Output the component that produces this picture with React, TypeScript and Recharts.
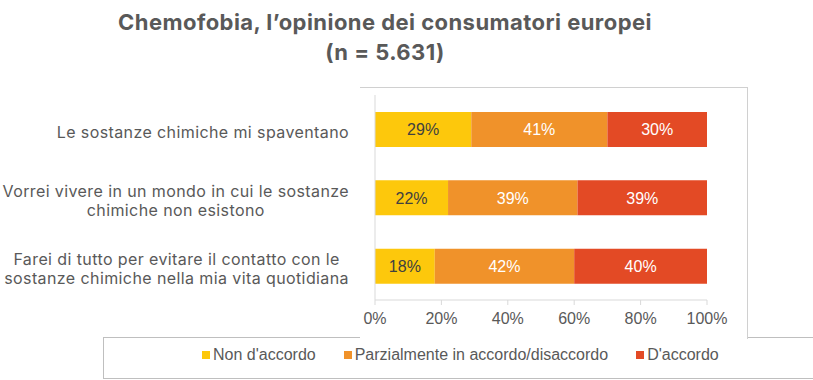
import React from 'react';
import { BarChart, Bar, XAxis, YAxis, LabelList } from 'recharts';

const categories = [
  'Le sostanze chimiche mi spaventano',
  'Vorrei vivere in un mondo in cui le sostanze\nchimiche non esistono',
  'Farei di tutto per evitare il contatto con le\nsostanze chimiche nella mia vita quotidiana',
];
const nonAccordo = [29, 22, 18];
const parziale = [41, 39, 42];
const accordo = [30, 39, 40];
const seriesNames = ["Non d'accordo", 'Parzialmente in accordo/disaccordo', "D'accordo"];
const seriesColors = ['#FDC80C', '#F0922A', '#E34A25'];
const xTicks = [0, 20, 40, 60, 80, 100];
const titleLines = ['Chemofobia, l\u2019opinione dei consumatori europei', '(n = 5.631)'];

const data = categories.map((name, i) => ({
  name,
  nonAccordo: nonAccordo[i],
  parziale: parziale[i],
  accordo: accordo[i],
}));

const keys = ['nonAccordo', 'parziale', 'accordo'];

const grey = '#595959';
const axisGrey = '#D9D9D9';
const arial = '"Liberation Sans", Arial, sans-serif';

const CategoryTick = ({ y, payload }: any) => (
  <foreignObject x={0} y={y - 22} width={349} height={50}>
    <div
      style={{
        width: '100%',
        height: '100%',
        display: 'flex',
        alignItems: 'center',
        justifyContent: 'flex-end',
      }}
    >
      <div
        style={{
          whiteSpace: 'pre-line',
          textAlign: 'center',
          fontFamily: 'Inter, sans-serif',
          fontSize: 16,
          letterSpacing: 0.4,
          lineHeight: '19px',
          color: grey,
        }}
      >
        {payload.value}
      </div>
    </div>
  </foreignObject>
);

const LegendBox = () => (
  <div
    style={{
      position: 'absolute',
      left: 0,
      top: 346,
      width: 813,
      display: 'flex',
      fontFamily: arial,
      fontSize: 16,
      color: grey,
      lineHeight: '18px',
    }}
  >
    <div style={{ marginLeft: 202, display: 'flex' }}>
      {seriesNames.map((n, i) => (
        <div key={n} style={{ display: 'flex', alignItems: 'center', marginRight: 28 }}>
          <span
            style={{ width: 8, height: 8, background: seriesColors[i], marginRight: 3, display: 'inline-block' }}
          />
          <span>{n}</span>
        </div>
      ))}
    </div>
  </div>
);

export default function App() {
  return (
    <div style={{ position: 'absolute', left: 0, top: 0, width: 813, height: 380, background: '#fff', overflow: 'hidden' }}>
      {/* legend frame */}
      <div
        style={{
          position: 'absolute',
          left: 103,
          top: 337,
          width: 720,
          height: 40,
          border: '1px solid #BFBFBF',
        }}
      />
      {/* plot frame */}
      <div
        style={{
          position: 'absolute',
          left: 360,
          top: 87,
          width: 387,
          height: 251,
          background: '#fff',
          borderTop: '1px solid #D0D0D0',
          borderRight: '1px solid #D0D0D0',
        }}
      />
      <div
        style={{
          position: 'absolute',
          left: 0,
          top: 7,
          width: 770,
          textAlign: 'center',
          fontFamily: 'Inter, sans-serif',
          fontWeight: 700,
          fontSize: 22,
          letterSpacing: 0.45,
          lineHeight: '30px',
          color: grey,
        }}
      >
        {titleLines.map((t) => (
          <div key={t}>{t}</div>
        ))}
      </div>
      <div style={{ position: 'absolute', left: 0, top: 0 }}>
        <BarChart
          width={813}
          height={380}
          data={data}
          layout="vertical"
          margin={{ top: 95, right: 106, bottom: 50, left: 0 }}
        >
          <XAxis
            type="number"
            domain={[0, 100]}
            ticks={xTicks}
            tickFormatter={(v) => `${v}%`}
            height={30}
            stroke={axisGrey}
            tickSize={5}
            tickMargin={8}
            tick={{ fill: grey, fontSize: 16, fontFamily: arial }}
          />
          <YAxis
            type="category"
            dataKey="name"
            width={375}
            stroke={axisGrey}
            tickLine={false}
            interval={0}
            tick={<CategoryTick />}
          />
          {keys.map((k, i) => (
            <Bar key={k} dataKey={k} name={seriesNames[i]} stackId="a" fill={seriesColors[i]} barSize={35} isAnimationActive={false}>
              <LabelList
                dataKey={k}
                position="center"
                formatter={(v: any) => `${v}%`}
                fill={i === 0 ? '#404040' : '#ffffff'}
                style={{ fontSize: 16, fontFamily: arial }}
              />
            </Bar>
          ))}
        </BarChart>
      </div>
      <LegendBox />
    </div>
  );
}
